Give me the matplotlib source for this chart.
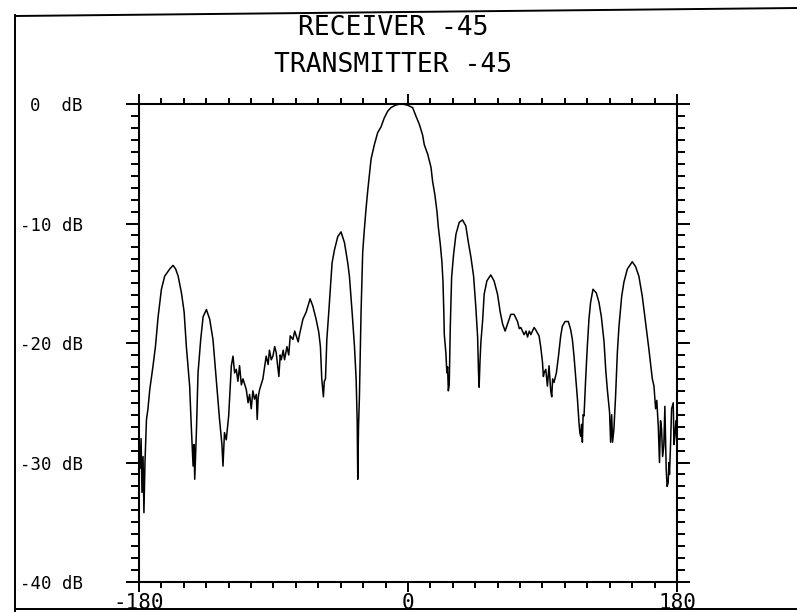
import matplotlib
matplotlib.use("Agg")
import matplotlib.pyplot as plt
from matplotlib.lines import Line2D
from matplotlib.ticker import MultipleLocator, FixedLocator

# Measured antenna pattern: azimuth angle (degrees) and relative level (dB)
angle_deg = [
    -180.0, -179.3, -178.6, -178.0, -177.3, -176.7, -176.0, -175.0, -174.0, -172.8,
    -170.6, -169.0, -167.2, -165.0, -162.8, -159.4, -157.2, -155.5, -153.8, -151.6,
    -149.8, -148.3, -146.1, -145.0, -143.8, -143.2, -142.7, -141.6, -140.5, -138.7,
    -137.1, -134.9, -132.7, -130.5, -128.3, -126.1, -124.5, -123.8, -122.8, -121.6,
    -120.0, -118.2, -117.1, -116.0, -114.9, -113.8, -112.7, -111.5, -110.4, -108.2,
    -107.0, -106.0, -104.9, -103.8, -102.7, -101.5, -100.9, -100.2, -99.3, -97.1,
    -94.9, -93.6, -92.7, -91.5, -90.4, -89.2, -88.2, -86.4, -85.5, -84.8,
    -83.5, -82.6, -81.0, -79.8, -78.8, -77.0, -75.8, -74.8, -73.5, -72.6,
    -70.3, -68.1, -65.5, -63.7, -61.5, -59.7, -58.6, -57.7, -56.6, -56.0,
    -55.2, -54.3, -53.0, -51.9, -50.8, -49.2, -47.0, -44.8, -42.5, -40.3,
    -39.2, -37.4, -35.8, -34.7, -34.0, -33.6, -33.1, -32.5, -31.4, -30.3,
    -29.2, -28.1, -26.9, -24.7, -22.5, -20.3, -18.0, -16.0, -13.6, -11.4,
    -8.5, -5.5, -3.5, -0.2, 3.1, 5.3, 7.6, 9.8, 10.9, 13.2,
    15.4, 16.5, 18.0, 19.4, 20.3, 21.6, 22.7, 23.4, 24.0, 24.3,
    25.4, 26.0, 26.5, 27.0, 27.6, 28.3, 29.2, 30.5, 32.1, 34.3,
    36.5, 38.7, 40.3, 42.1, 43.9, 45.4, 46.6, 47.2, 47.6, 48.2,
    48.8, 49.9, 51.0, 52.8, 55.4, 57.6, 59.9, 61.7, 63.3, 65.0,
    66.6, 68.8, 71.0, 73.3, 74.5, 75.5, 77.7, 79.0, 80.0, 81.2,
    82.2, 84.4, 85.5, 87.7, 88.8, 90.0, 90.6, 91.1, 92.2, 92.8,
    93.3, 94.4, 95.5, 96.2, 96.8, 97.7, 99.3, 100.7, 102.2, 103.3,
    105.1, 107.3, 108.9, 110.0, 111.1, 112.2, 113.4, 114.4, 115.0, 115.6,
    116.2, 116.7, 117.2, 117.8, 118.9, 120.0, 121.1, 122.2, 123.8, 126.0,
    127.8, 129.4, 131.2, 132.3, 133.4, 134.9, 135.6, 136.3, 136.9, 137.8,
    138.9, 140.1, 141.2, 143.0, 144.5, 146.8, 150.1, 152.3, 154.5, 156.8,
    159.0, 161.2, 163.5, 164.6, 165.7, 166.5, 167.5, 168.3, 169.0, 169.7,
    170.4, 171.2, 171.9, 172.8, 173.4, 174.1, 174.6, 175.0, 175.7, 176.4,
    177.5, 178.0, 178.6, 179.3, 180.0,
]
level_db = [
    -28.5, -30.5, -28.0, -32.5, -29.5, -34.2, -30.0, -26.4, -25.5, -23.9,
    -21.9, -20.3, -17.8, -15.5, -14.4, -13.8, -13.5, -13.8, -14.4, -15.8,
    -17.4, -20.3, -23.6, -27.0, -30.3, -28.5, -31.4, -27.5, -22.5, -19.7,
    -17.8, -17.2, -18.0, -19.7, -23.0, -26.4, -28.5, -30.3, -27.5, -28.1,
    -26.1, -21.9, -21.1, -22.5, -22.2, -23.2, -21.9, -23.5, -23.0, -23.9,
    -25.0, -24.3, -25.5, -24.0, -24.7, -24.3, -26.4, -24.5, -23.9, -23.0,
    -21.1, -21.8, -20.6, -21.4, -21.1, -20.3, -20.8, -22.8, -21.0, -21.4,
    -20.6, -21.4, -20.3, -21.0, -19.4, -19.7, -19.0, -19.4, -19.9, -19.3,
    -18.0, -17.4, -16.3, -16.9, -18.0, -19.1, -20.3, -23.0, -24.5, -23.2,
    -23.0, -19.7, -17.4, -15.3, -13.3, -12.2, -11.1, -10.7, -11.6, -13.3,
    -14.4, -17.4, -20.3, -23.0, -26.5, -31.4, -27.0, -24.5, -17.4, -12.4,
    -10.5, -8.8, -7.2, -4.6, -3.4, -2.4, -1.9, -1.2, -0.6, -0.3,
    -0.1, 0.0, 0.0, -0.1, -0.3, -1.0, -1.7, -2.6, -3.4, -4.2,
    -5.3, -6.5, -7.6, -9.0, -10.3, -11.7, -13.2, -14.8, -17.5, -19.3,
    -20.9, -22.5, -22.0, -24.0, -23.5, -18.7, -14.5, -12.6, -10.9, -9.9,
    -9.7, -10.2, -11.5, -12.8, -14.4, -17.0, -19.5, -22.5, -23.7, -21.5,
    -19.9, -18.2, -15.9, -14.8, -14.3, -14.8, -15.9, -17.4, -18.4, -19.0,
    -18.4, -17.6, -17.6, -18.2, -18.8, -18.7, -19.3, -19.0, -19.5, -19.0,
    -19.3, -18.7, -18.9, -19.4, -20.3, -21.6, -22.8, -22.5, -22.2, -23.0,
    -23.6, -21.9, -24.0, -24.5, -23.0, -23.3, -22.5, -21.1, -19.4, -18.6,
    -18.2, -18.2, -18.9, -19.7, -21.1, -22.8, -24.7, -26.6, -27.5, -27.8,
    -26.8, -28.3, -26.0, -26.1, -23.0, -20.3, -18.0, -16.6, -15.5, -15.8,
    -16.6, -17.8, -19.9, -22.2, -23.9, -25.8, -28.3, -26.0, -28.3, -27.2,
    -24.5, -20.8, -18.6, -16.1, -14.9, -13.8, -13.2, -13.6, -14.4, -16.1,
    -18.3, -20.5, -23.0, -23.6, -25.5, -24.8, -27.0, -30.0, -26.5, -27.2,
    -29.5, -28.6, -25.3, -30.6, -32.0, -31.7, -30.0, -31.0, -28.5, -25.5,
    -25.0, -28.5, -27.8, -26.5, -28.3,
]

title_lines = ["RECEIVER -45", "TRANSMITTER -45"]
y_ticks = [-40, -30, -20, -10, 0]
y_tick_labels = ["-40 dB", "-30 dB", "-20 dB", "-10 dB", "0  dB"]
x_ticks = [-180, 0, 180]
x_tick_labels = ["-180", "0", "180"]

MONO = "DejaVu Sans Mono"
plt.rcParams["font.family"] = [MONO]

fig = plt.figure(figsize=(7.97, 6.12), dpi=100)
fig.patch.set_facecolor("white")

ax = fig.add_axes([0.1744, 0.0490, 0.6750, 0.7810])
ax.plot(angle_deg, level_db, color="black", linewidth=1.1)

ax.set_xlim(-180, 180)
ax.set_ylim(-40, 0)

ax.xaxis.set_major_locator(FixedLocator(x_ticks))
ax.xaxis.set_minor_locator(MultipleLocator(15))
ax.yaxis.set_major_locator(FixedLocator(y_ticks))
ax.yaxis.set_minor_locator(MultipleLocator(1))
ax.set_xticklabels(x_tick_labels)
ax.set_yticklabels(y_tick_labels)

for side in ax.spines.values():
    side.set_linewidth(1.5)
    side.set_color("black")

ax.tick_params(which="both", direction="out", color="black",
               top=True, right=True, bottom=True, left=True, width=1.4)
ax.tick_params(axis="y", which="major", length=9.5, pad=31, labelsize=12.5)
ax.tick_params(axis="y", which="minor", length=5.5)
ax.tick_params(axis="x", which="major", length=7, pad=1, labelsize=15)
ax.tick_params(axis="x", which="minor", length=4)
ax.tick_params(labelright=False, labeltop=False)

# Titles above the plot
fig.text(393 / 797, 1 - 28 / 612, title_lines[0], ha="center", va="center",
         fontsize=19, color="black")
fig.text(393 / 797, 1 - 65 / 612, title_lines[1], ha="center", va="center",
         fontsize=19, color="black")

# Outer border around the sheet
x_left = 15 / 797
fig.add_artist(Line2D([x_left, x_left], [0.0, 1 - 15 / 612],
                      transform=fig.transFigure, color="black", linewidth=1.4))
fig.add_artist(Line2D([x_left, 1.0], [1 - 16 / 612, 1 - 8 / 612],
                      transform=fig.transFigure, color="black", linewidth=1.4))
fig.add_artist(Line2D([x_left, 1.0], [1 - 609 / 612, 1 - 609 / 612],
                      transform=fig.transFigure, color="black", linewidth=1.4))

fig.savefig("out.png", dpi=100, facecolor="white")
